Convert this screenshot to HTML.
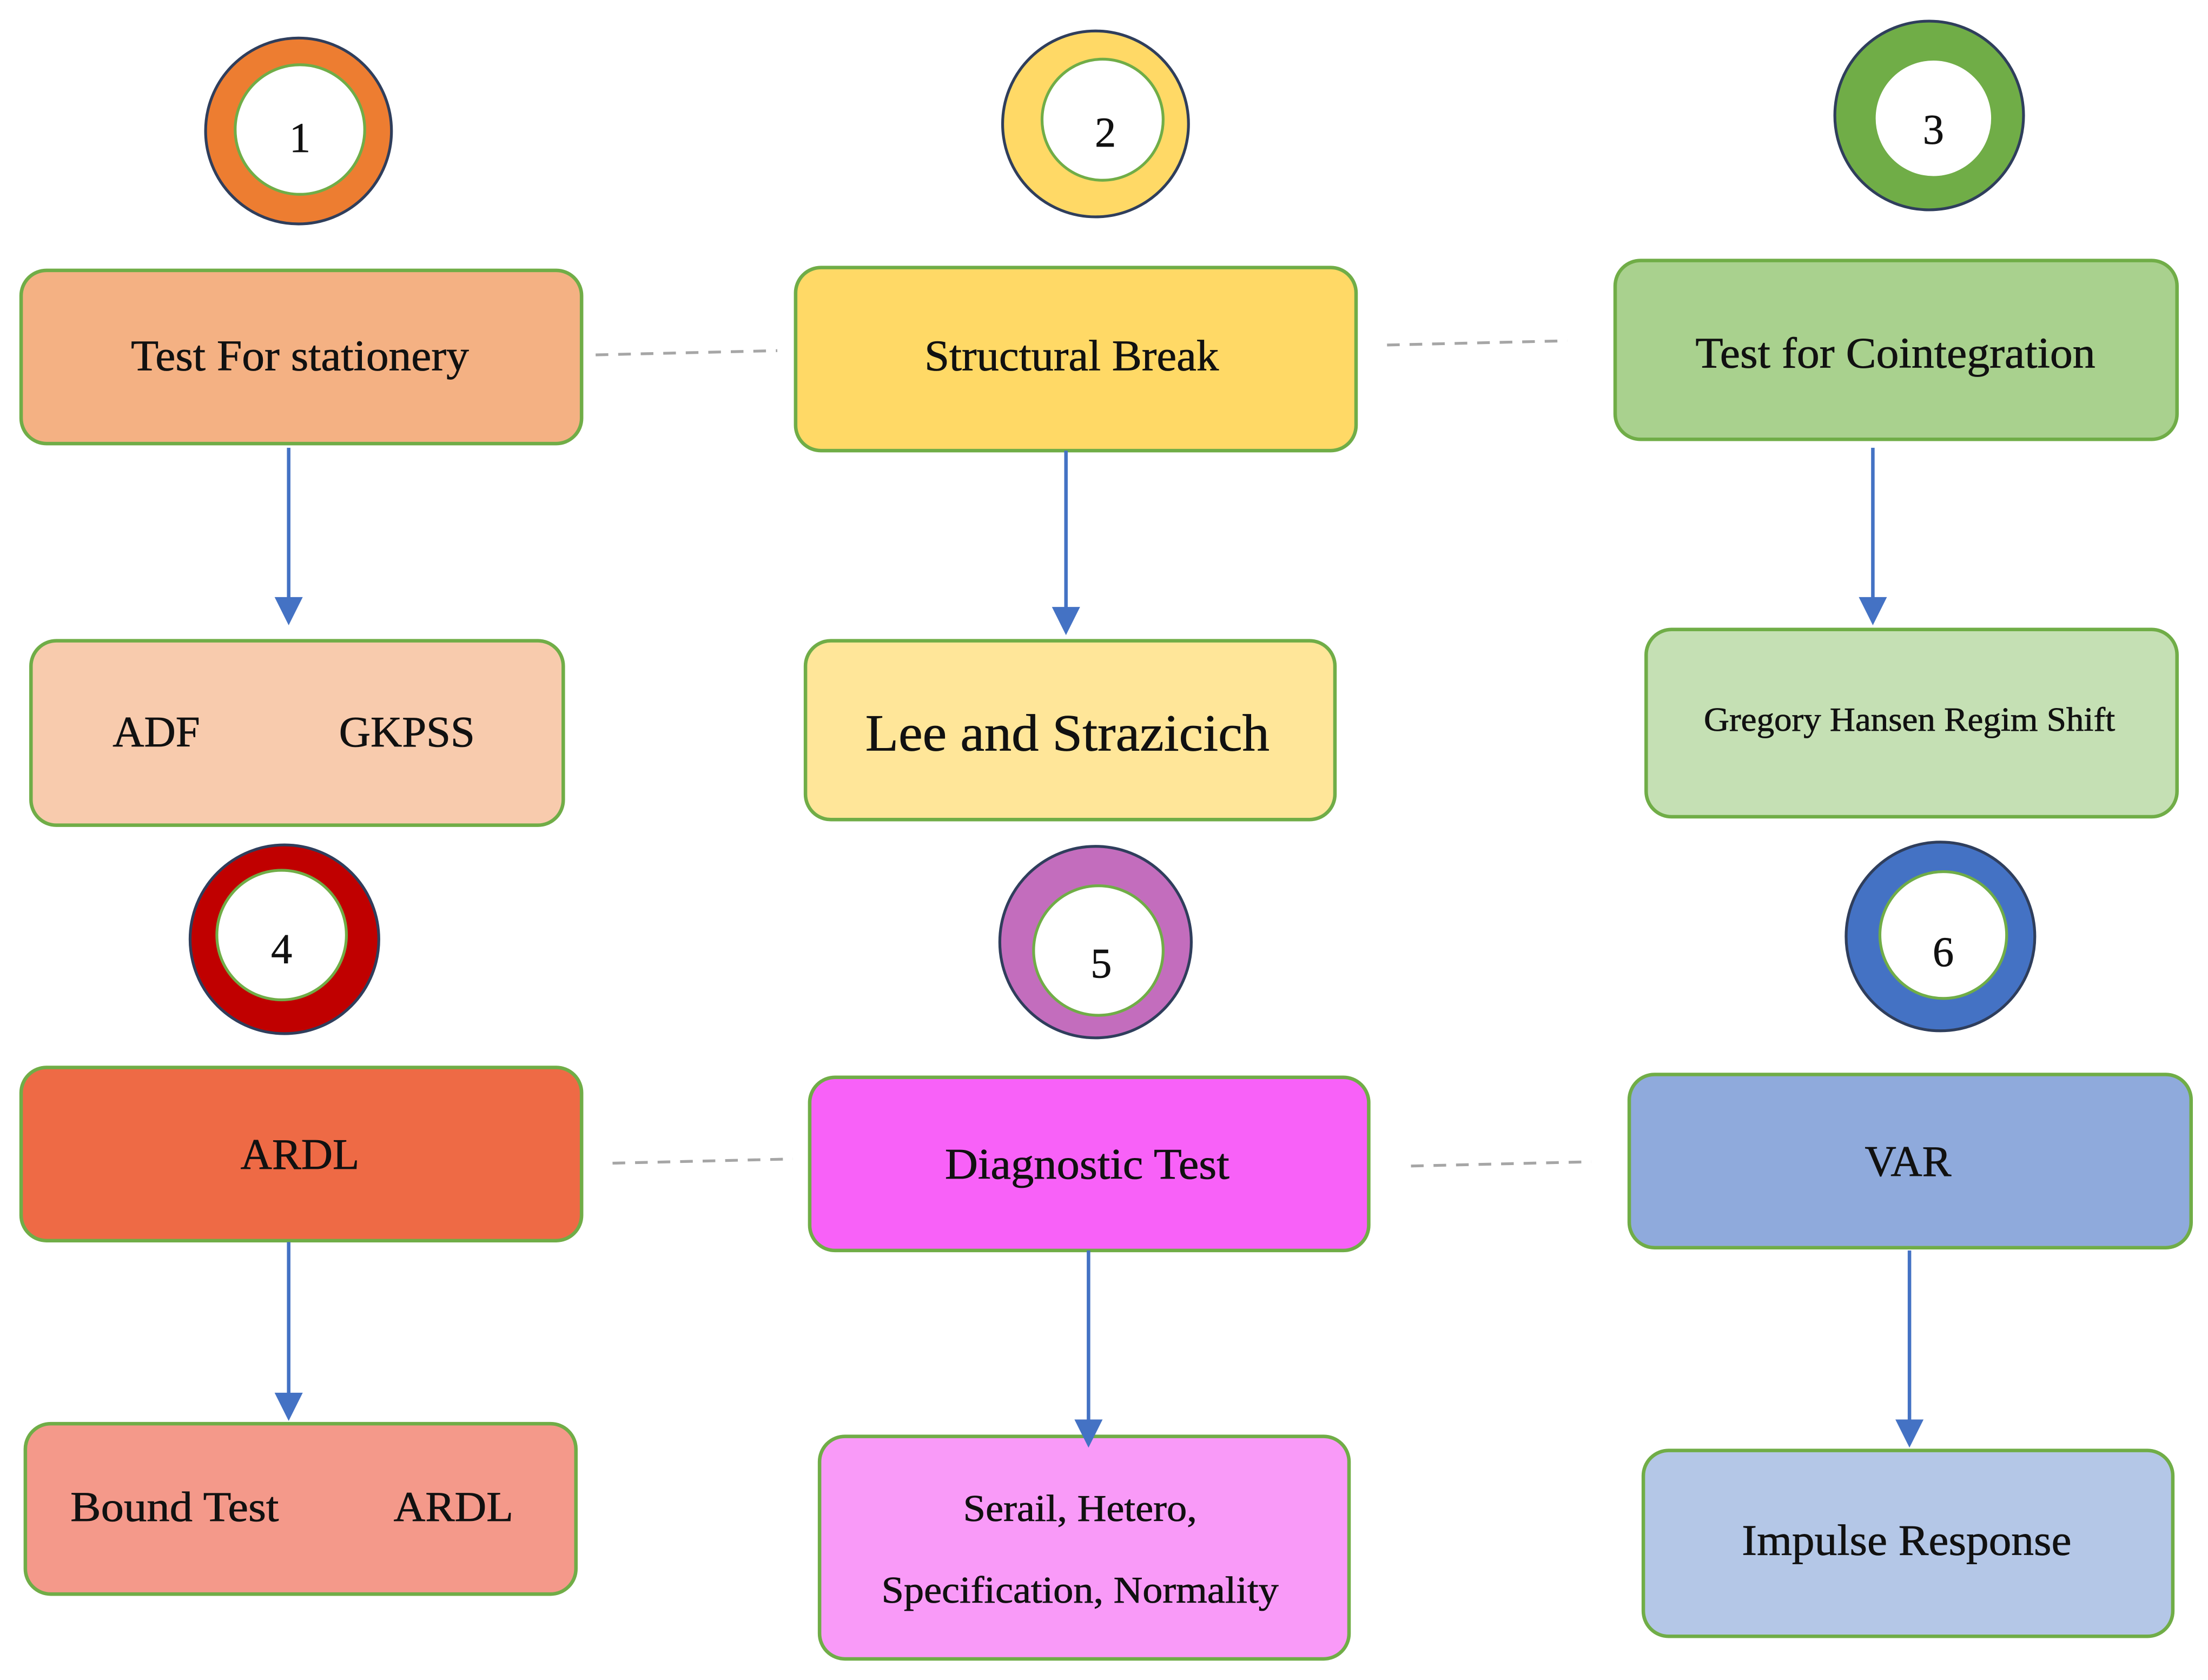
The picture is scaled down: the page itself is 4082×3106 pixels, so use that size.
<!DOCTYPE html>
<html><head><meta charset="utf-8"><style>
html,body{margin:0;padding:0;background:#fff;}
svg{display:block;}
text{font-family:"Liberation Serif",serif;fill:#111;stroke:#111;stroke-width:0.3;}
</style></head><body>
<svg width="4082" height="3106" viewBox="0 0 1568 1193" preserveAspectRatio="none" xmlns="http://www.w3.org/2000/svg">
<g stroke-width="2">
<circle cx="212" cy="93" r="66" fill="#ED7D31" stroke="#2F3E5C"/>
<circle cx="213" cy="92" r="46" fill="#fff" stroke="#70AD47"/>
<circle cx="778" cy="88" r="66" fill="#FFD966" stroke="#2F3E5C"/>
<circle cx="783" cy="85" r="43" fill="#fff" stroke="#70AD47"/>
<circle cx="1370" cy="82" r="67" fill="#70AD47" stroke="#2F3E5C"/>
<circle cx="1373" cy="84" r="42" fill="#fff" stroke="#70AD47"/>
<circle cx="202" cy="667" r="67" fill="#C00000" stroke="#2F3E5C"/>
<circle cx="200" cy="664" r="46" fill="#fff" stroke="#70AD47"/>
<circle cx="778" cy="669" r="68" fill="#C36DBD" stroke="#2F3E5C"/>
<circle cx="780" cy="675" r="46" fill="#fff" stroke="#70AD47"/>
<circle cx="1378" cy="665" r="67" fill="#4472C4" stroke="#2F3E5C"/>
<circle cx="1380" cy="664" r="45" fill="#fff" stroke="#70AD47"/>
</g>
<g font-size="30" text-anchor="middle">
<text x="213" y="108">1</text>
<text x="785" y="104">2</text>
<text x="1373" y="102">3</text>
<text x="200" y="684">4</text>
<text x="782" y="694">5</text>
<text x="1380" y="686">6</text>
</g>
<g stroke="#70AD47" stroke-width="2.5">
<rect x="15" y="192" width="398" height="123" rx="18" fill="#F4B183"/>
<rect x="565" y="190" width="398" height="130" rx="18" fill="#FFD966"/>
<rect x="1147" y="185" width="399" height="127" rx="18" fill="#A9D18E"/>
<rect x="22" y="455" width="378" height="131" rx="18" fill="#F8CBAD"/>
<rect x="572" y="455" width="376" height="127" rx="18" fill="#FFE699"/>
<rect x="1169" y="447" width="377" height="133" rx="18" fill="#C5E0B4"/>
<rect x="15" y="758" width="398" height="123" rx="18" fill="#EE6A45"/>
<rect x="575" y="765" width="397" height="123" rx="18" fill="#F861F8"/>
<rect x="1157" y="763" width="399" height="123" rx="18" fill="#8FAADC"/>
<rect x="18" y="1011" width="391" height="121" rx="18" fill="#F4998A"/>
<rect x="582" y="1020" width="376" height="158" rx="18" fill="#F99AF8"/>
<rect x="1167" y="1030" width="376" height="132" rx="18" fill="#B4C7E7"/>
</g>
<g font-size="31" text-anchor="middle">
<text x="213" y="263" textLength="240" lengthAdjust="spacingAndGlyphs">Test For stationery</text>
<text x="761" y="263" textLength="209" lengthAdjust="spacingAndGlyphs">Structural Break</text>
<text x="1346" y="261" textLength="284" lengthAdjust="spacingAndGlyphs">Test for Cointegration</text>
<text x="111" y="530" font-size="31">ADF</text>
<text x="289" y="530" font-size="31">GKPSS</text>
<text x="758" y="533" font-size="37" textLength="287" lengthAdjust="spacingAndGlyphs">Lee and Strazicich</text>
<text x="1356" y="519" font-size="24" textLength="292" lengthAdjust="spacingAndGlyphs">Gregory Hansen Regim Shift</text>
<text x="213" y="830">ARDL</text>
<text x="772" y="837" textLength="202" lengthAdjust="spacingAndGlyphs">Diagnostic Test</text>
<text x="1355" y="835">VAR</text>
<text x="124" y="1080" font-size="30" textLength="148" lengthAdjust="spacingAndGlyphs">Bound Test</text>
<text x="322" y="1080" font-size="30" textLength="85" lengthAdjust="spacingAndGlyphs">ARDL</text>
<text x="767" y="1080" font-size="27" textLength="166" lengthAdjust="spacingAndGlyphs">Serail, Hetero,</text>
<text x="767" y="1138" font-size="27" textLength="282" lengthAdjust="spacingAndGlyphs">Specification, Normality</text>
<text x="1354" y="1104" textLength="234" lengthAdjust="spacingAndGlyphs">Impulse Response</text>
</g>
<g stroke="#A6A6A6" stroke-width="2" stroke-dasharray="9,7">
<line x1="423" y1="252" x2="552" y2="249"/>
<line x1="985" y1="245" x2="1113" y2="242"/>
<line x1="435" y1="826" x2="563" y2="823"/>
<line x1="1002" y1="828" x2="1130" y2="825"/>
</g>
<g stroke="#4472C4" stroke-width="2.5">
<line x1="205" y1="318" x2="205" y2="426"/>
<line x1="757" y1="320" x2="757" y2="433"/>
<line x1="1330" y1="318" x2="1330" y2="426"/>
<line x1="205" y1="882" x2="205" y2="991"/>
<line x1="773" y1="888" x2="773" y2="1010"/>
<line x1="1356" y1="888" x2="1356" y2="1010"/>
</g>
<g fill="#4472C4">
<polygon points="195,424 215,424 205,444"/>
<polygon points="747,431 767,431 757,451"/>
<polygon points="1320,424 1340,424 1330,444"/>
<polygon points="195,989 215,989 205,1009"/>
<polygon points="763,1008 783,1008 773,1028"/>
<polygon points="1346,1008 1366,1008 1356,1028"/>
</g>
</svg>
</body></html>
